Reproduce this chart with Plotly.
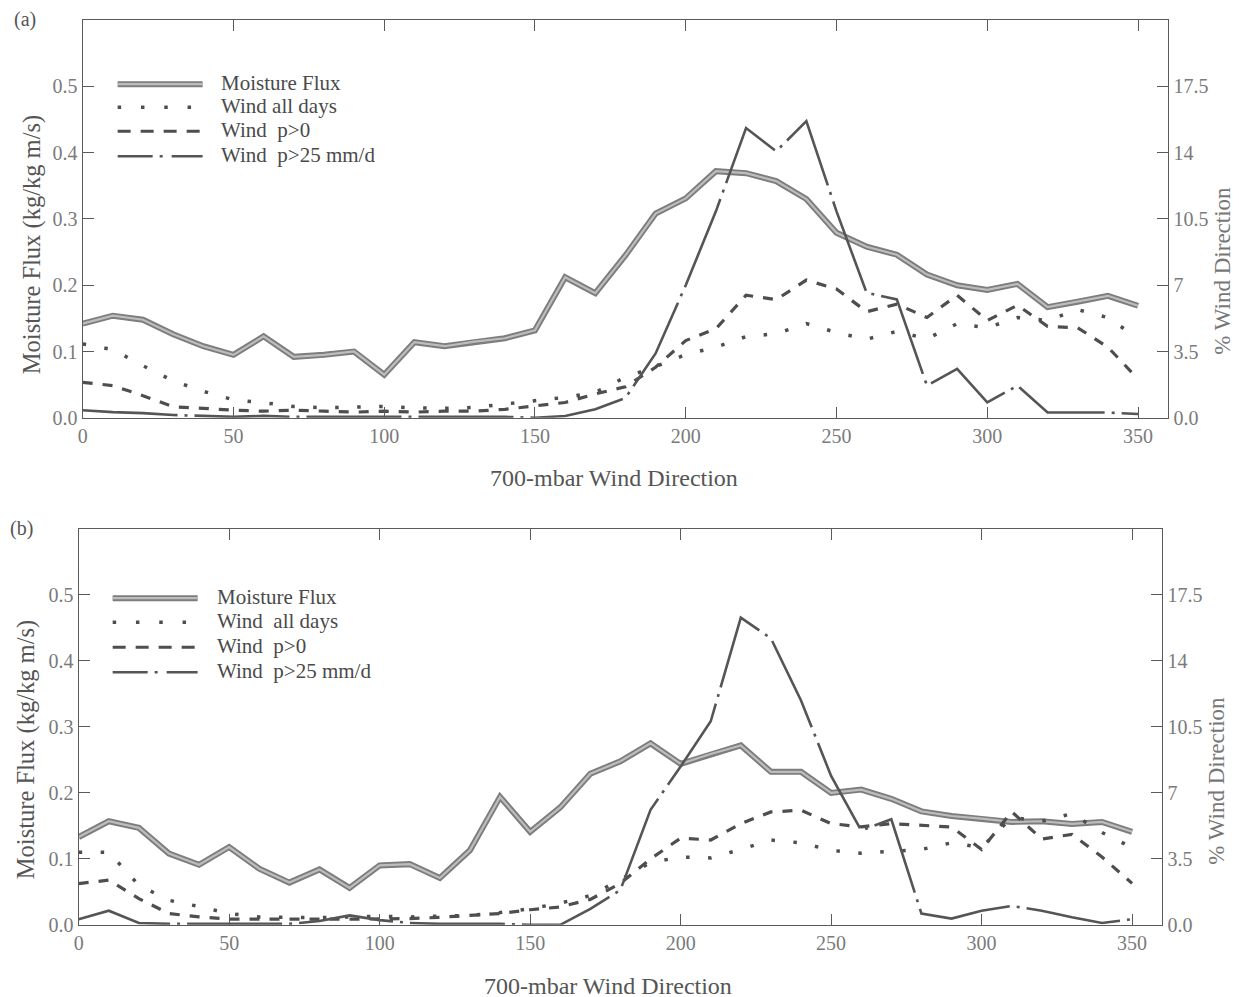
import plotly.graph_objects as go

W, H = 1239, 997

# ---------------- data ----------------
DIRECTIONS = [0, 10, 20, 30, 40, 50, 60, 70, 80, 90, 100, 110, 120, 130, 140, 150, 160, 170,
              180, 190, 200, 210, 220, 230, 240, 250, 260, 270, 280, 290, 300, 310, 320, 330, 340, 350]

# panel (a)  -- moisture flux (kg/kg m/s), wind frequencies (% wind direction)
FLUX_A = [0.142, 0.154, 0.148, 0.126, 0.108, 0.095, 0.123, 0.092, 0.095, 0.100, 0.065, 0.114,
          0.108, 0.115, 0.120, 0.132, 0.212, 0.188, 0.245, 0.308, 0.331, 0.372, 0.369, 0.357,
          0.330, 0.279, 0.258, 0.246, 0.216, 0.200, 0.193, 0.202, 0.167, 0.175, 0.184, 0.169]
ALLDAYS_A = [3.9, 3.6, 2.75, 1.95, 1.4, 0.95, 0.8, 0.6, 0.53, 0.55, 0.6, 0.52, 0.5, 0.55, 0.72,
             0.9, 1.08, 1.34, 2.14, 2.7, 3.34, 3.73, 4.29, 4.44, 4.97, 4.5, 4.15, 4.56, 4.17,
             4.97, 4.76, 5.29, 5.14, 5.71, 5.29, 4.2]
P0_A = [1.87, 1.7, 1.17, 0.58, 0.5, 0.4, 0.35, 0.4, 0.35, 0.3, 0.35, 0.3, 0.35, 0.35, 0.45,
        0.62, 0.81, 1.26, 1.64, 2.67, 4.08, 4.7, 6.47, 6.24, 7.27, 6.8, 5.6, 6.0, 5.3, 6.47,
        5.14, 5.94, 4.83, 4.75, 3.73, 2.05]
P25_A = [0.4, 0.3, 0.25, 0.15, 0.1, 0.05, 0.1, 0.05, 0.05, 0.05, 0.05, 0.05, 0.05, 0.05, 0.05,
         0.0, 0.1, 0.45, 1.05, 3.4, 7.0, 10.9, 15.3, 14.07, 15.66, 10.9, 6.6, 6.25, 1.7, 2.58,
         0.81, 1.7, 0.28, 0.28, 0.28, 0.2]

# panel (b)
FLUX_B = [0.133, 0.157, 0.147, 0.108, 0.091, 0.118, 0.085, 0.064, 0.084, 0.056, 0.090, 0.092,
          0.071, 0.113, 0.194, 0.141, 0.178, 0.229, 0.248, 0.275, 0.244, 0.259, 0.272, 0.232,
          0.232, 0.200, 0.205, 0.191, 0.172, 0.165, 0.161, 0.156, 0.157, 0.153, 0.156, 0.141]
ALLDAYS_B = [3.85, 3.85, 2.1, 1.3, 0.97, 0.6, 0.42, 0.38, 0.38, 0.42, 0.45, 0.42, 0.45, 0.5,
             0.65, 0.85, 1.15, 1.55, 2.4, 3.3, 3.6, 3.55, 4.0, 4.5, 4.35, 3.95, 3.8, 3.9, 4.0,
             4.35, 4.1, 5.7, 5.5, 5.9, 4.9, 4.1]
P0_B = [2.19, 2.37, 1.39, 0.6, 0.42, 0.3, 0.3, 0.28, 0.3, 0.3, 0.3, 0.33, 0.4, 0.5, 0.6, 0.8,
        0.95, 1.35, 2.2, 3.5, 4.6, 4.5, 5.37, 5.99, 6.08, 5.37, 5.2, 5.37, 5.3, 5.19, 4.0, 6.0,
        4.55, 4.8, 3.6, 2.2]
P25_B = [0.3, 0.75, 0.1, 0.05, 0.05, 0.05, 0.05, 0.05, 0.2, 0.5, 0.25, 0.1, 0.05, 0.05, 0.05,
         0.0, 0.0, 0.85, 1.85, 6.1, 8.4, 10.8, 16.3, 15.2, 11.9, 7.9, 5.0, 5.6, 0.6, 0.33, 0.75,
         1.0, 0.75, 0.4, 0.1, 0.3]

X_TICKS = [0, 50, 100, 150, 200, 250, 300, 350]
Y_LEFT_TICKS = [0.0, 0.1, 0.2, 0.3, 0.4, 0.5]
Y_LEFT_LABELS = ["0.0", "0.1", "0.2", "0.3", "0.4", "0.5"]
Y_RIGHT_TICKS = [0.0, 3.5, 7.0, 10.5, 14.0, 17.5]
Y_RIGHT_LABELS = ["0.0", "3.5", "7", "10.5", "14", "17.5"]

SERIES_NAMES_A = ["Moisture Flux", "Wind all days", "Wind\u00a0 p>0", "Wind\u00a0 p>25 mm/d"]
SERIES_NAMES_B = ["Moisture Flux", "Wind\u00a0 all days", "Wind\u00a0 p>0", "Wind\u00a0 p>25 mm/d"]
X_TITLE = "700-mbar Wind Direction"
YL_TITLE = "Moisture Flux (kg/kg m/s)"
YR_TITLE = "% Wind Direction"

# ---------------- styles ----------------
FONT = "Liberation Serif"
AX = "#5a5a5a"
TICKC = "#7a7a7a"
FLUX_OUTER = dict(color="#7d7d7d", width=6)
FLUX_INNER = dict(color="#bdbdbd", width=2.2)
DOT = dict(color="#4e4e4e", width=3.5, dash="3.5px,18.5px")
DASH = dict(color="#4e4e4e", width=3.2, dash="10px,10px")
DASHDOT = dict(color="#555555", width=2.6, dash="95px,7px,3px,7px")

# mapping from target picture pixels to paper coordinates
# (compensates the page offset observed in the rendered picture)
OFF_X, SC_X = 12.3, 0.9964
OFF_Y, SC_Y = 8.0, 0.987


def px(x):
    return ((x - OFF_X) / SC_X) / W


def py(y):
    return 1 - ((y - OFF_Y) / SC_Y) / H


fig = go.Figure()


def add_panel(xa, ya, y2a, flux, alld, p0, p25, names):
    common = dict(mode="lines", hoverinfo="skip", showlegend=False)
    fig.add_trace(go.Scatter(x=DIRECTIONS, y=flux, xaxis=xa, yaxis=ya, line=FLUX_OUTER,
                             name=names[0], **common))
    fig.add_trace(go.Scatter(x=DIRECTIONS, y=flux, xaxis=xa, yaxis=ya, line=FLUX_INNER,
                             name=names[0], **common))
    fig.add_trace(go.Scatter(x=DIRECTIONS, y=alld, xaxis=xa, yaxis=y2a, line=DOT,
                             name=names[1], **common))
    fig.add_trace(go.Scatter(x=DIRECTIONS, y=p0, xaxis=xa, yaxis=y2a, line=DASH,
                             name=names[2], **common))
    fig.add_trace(go.Scatter(x=DIRECTIONS, y=p25, xaxis=xa, yaxis=y2a, line=DASHDOT,
                             name=names[3], **common))


add_panel("x", "y", "y2", FLUX_A, ALLDAYS_A, P0_A, P25_A, SERIES_NAMES_A)
add_panel("x2", "y3", "y4", FLUX_B, ALLDAYS_B, P0_B, P25_B, SERIES_NAMES_B)

tickfont = dict(family=FONT, size=20, color=TICKC)
xcommon = dict(range=[0, 360], tickvals=X_TICKS, ticks="inside", ticklen=11, tickwidth=1.4,
               tickcolor=AX, showline=True, linecolor=AX, linewidth=1.4, mirror="ticks",
               showgrid=False, zeroline=False, tickfont=tickfont)
ylcommon = dict(range=[0, 0.6], tickvals=Y_LEFT_TICKS, ticktext=Y_LEFT_LABELS, ticks="inside",
                ticklen=11, tickwidth=1.4, tickcolor=AX, showline=True, linecolor=AX,
                linewidth=1.4, mirror=True, showgrid=False, zeroline=False, tickfont=tickfont)
yrcommon = dict(range=[0, 21], tickvals=Y_RIGHT_TICKS, ticktext=Y_RIGHT_LABELS, ticks="inside",
                ticklen=11, tickwidth=1.4, tickcolor=AX, showline=True, linecolor=AX,
                linewidth=1.4, side="right", showgrid=False, zeroline=False, tickfont=tickfont)

A_X = [82, 1168]
A_Y = [20, 417]
B_X = [78, 1162]
B_Y = [528, 923]

fig.update_layout(
    width=W, height=H,
    margin=dict(l=0, r=0, t=0, b=0),
    paper_bgcolor="white", plot_bgcolor="white",
    xaxis=dict(domain=[px(A_X[0]), px(A_X[1])], anchor="y", **xcommon),
    yaxis=dict(domain=[py(A_Y[1]), py(A_Y[0])], anchor="x", **ylcommon),
    yaxis2=dict(overlaying="y", anchor="x", **yrcommon),
    xaxis2=dict(domain=[px(B_X[0]), px(B_X[1])], anchor="y3", **xcommon),
    yaxis3=dict(domain=[py(B_Y[1]), py(B_Y[0])], anchor="x2", **ylcommon),
    yaxis4=dict(overlaying="y3", anchor="x2", **yrcommon),
)

annotations = []
shapes = []


def text(x, y, s, size, color="#555", angle=0, xanchor="center"):
    annotations.append(dict(x=px(x), y=py(y), xref="paper", yref="paper", text=s,
                            showarrow=False, textangle=angle, xanchor=xanchor,
                            yanchor="middle", font=dict(family=FONT, size=size, color=color)))


# panel labels & axis titles
text(24, 19, "(a)", 20)
text(21, 527, "(b)", 20)
text(32, 244, YL_TITLE, 24.5, angle=-90)
text(26, 748, YL_TITLE, 24.5, angle=-90)
text(1222, 270, YR_TITLE, 23, color="#777", angle=-90)
text(1216, 779, YR_TITLE, 23, color="#777", angle=-90)
text(614, 477, X_TITLE, 24)
text(608, 984, X_TITLE, 24)


def legend(x0, x1, ys, tx, names):
    def seg(y, line):
        shapes.append(dict(type="line", xref="paper", yref="paper", x0=px(x0), x1=px(x1),
                           y0=py(y), y1=py(y), line=line))
    seg(ys[0], dict(color=FLUX_OUTER["color"], width=FLUX_OUTER["width"]))
    seg(ys[0], dict(color=FLUX_INNER["color"], width=FLUX_INNER["width"]))
    seg(ys[1], dict(color=DOT["color"], width=DOT["width"], dash="3.5px,19.8px"))
    seg(ys[2], dict(color=DASH["color"], width=DASH["width"], dash="13px,10px"))
    seg(ys[3], dict(color=DASHDOT["color"], width=DASHDOT["width"], dash="35px,7px,3px,9px"))
    for y, n in zip(ys, names):
        text(tx, y - 1, n, 21, color="#4a4a4a", xanchor="left")


legend(117, 202, [84, 107, 131, 156], 218, SERIES_NAMES_A)
legend(112, 197, [597, 621, 646, 671], 214, SERIES_NAMES_B)

fig.update_layout(annotations=annotations, shapes=shapes)
fig.write_html("out.html")
